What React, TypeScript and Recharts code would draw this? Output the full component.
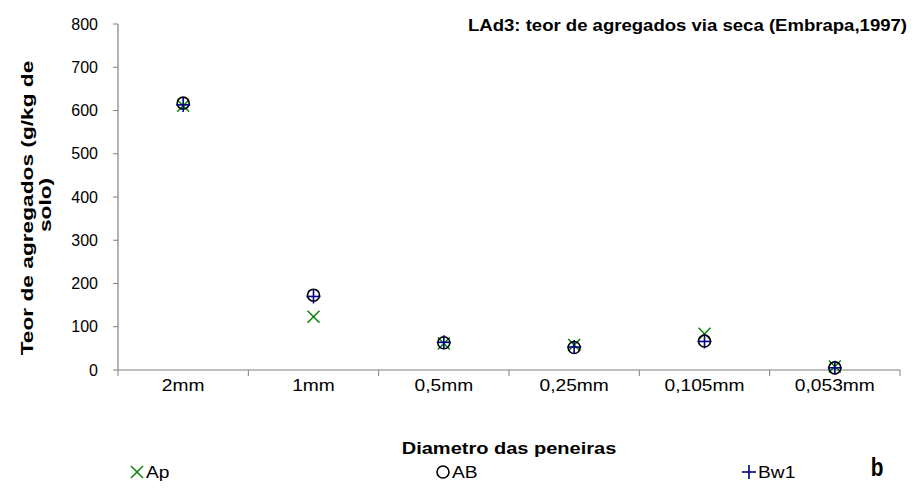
import { Line, LineChart, XAxis, YAxis } from "recharts";

const categories = ["2mm", "1mm", "0,5mm", "0,25mm", "0,105mm", "0,053mm"];
const apValues = [611, 123, 61, 58, 84, 8];
const abValues = [617, 173, 63, 52, 67, 5];
const bw1Values = [613, 170, 64, 53, 66, 5];
const yTicks = [0, 100, 200, 300, 400, 500, 600, 700, 800];

const FONT = "'Liberation Sans', Arial, sans-serif";
const AXIS_GRAY = "#808080";
// the original text is rendered a little wider than Arial
const STRETCH = 1.2;

type SeriesDef = {
  key: string;
  label: string;
  color: string;
  shape: "x" | "circle" | "plus";
};

const series: SeriesDef[] = [
  { key: "Ap", label: "Ap", color: "#008000", shape: "x" },
  { key: "AB", label: "AB", color: "#000000", shape: "circle" },
  { key: "Bw1", label: "Bw1", color: "#000080", shape: "plus" },
];

const rows = categories.map((label, i) => ({
  label,
  Ap: apValues[i],
  AB: abValues[i],
  Bw1: bw1Values[i],
}));

const Marker = ({ cx, cy, shape, color }: { cx: number; cy: number; shape: string; color: string }) => {
  if (shape === "x") {
    return (
      <g stroke={color} strokeWidth={1.4}>
        <line x1={cx - 6} y1={cy - 6} x2={cx + 6} y2={cy + 6} />
        <line x1={cx - 6} y1={cy + 6} x2={cx + 6} y2={cy - 6} />
      </g>
    );
  }
  if (shape === "circle") {
    return <circle cx={cx} cy={cy} r={6} fill="none" stroke={color} strokeWidth={1.6} />;
  }
  return (
    <g stroke={color} strokeWidth={1.6}>
      <line x1={cx - 7} y1={cy} x2={cx + 7} y2={cy} />
      <line x1={cx} y1={cy - 7} x2={cx} y2={cy + 7} />
    </g>
  );
};

const makeDot = (s: SeriesDef) => (props: any) => {
  const { cx, cy, index } = props;
  if (cx == null || cy == null) return <g key={`${s.key}-${index}`} />;
  return (
    <g key={`${s.key}-${index}`}>
      <Marker cx={cx} cy={cy} shape={s.shape} color={s.color} />
    </g>
  );
};

const CategoryTick = (props: any) => {
  const { x, y, payload, index } = props;
  const half = payload?.offset ?? 65;
  const last = index === categories.length - 1;
  return (
    <g>
      <line x1={x - half} y1={y - 8} x2={x - half} y2={y - 2} stroke={AXIS_GRAY} />
      {last && <line x1={x + half} y1={y - 8} x2={x + half} y2={y - 2} stroke={AXIS_GRAY} />}
      <text
        transform={`translate(${x},${y + 13}) scale(${STRETCH},1)`}
        textAnchor="middle"
        fill="#000"
        fontSize={16}
        fontFamily={FONT}
      >
        {payload.value}
      </text>
    </g>
  );
};

const LEGEND_X0 = 137;
const LEGEND_STEP = 306;
const LEGEND_Y = 472;

export default function App() {
  return (
    <div style={{ position: "absolute", left: 0, top: 0, width: 914, height: 488, background: "#fff", fontFamily: FONT }}>
      <LineChart width={914} height={488} data={rows} margin={{ top: 24, right: 14, bottom: 78, left: 0 }}>
        <XAxis
          dataKey="label"
          type="category"
          scale="band"
          interval={0}
          tick={<CategoryTick />}
          tickLine={false}
          axisLine={{ stroke: AXIS_GRAY, strokeWidth: 1.2 }}
          height={40}
        />
        <YAxis
          domain={[0, 800]}
          ticks={yTicks}
          interval={0}
          width={118}
          tickSize={5}
          tickMargin={15}
          tick={{ fill: "#000", fontSize: 16, fontFamily: FONT }}
          tickLine={{ stroke: AXIS_GRAY }}
          axisLine={{ stroke: AXIS_GRAY, strokeWidth: 1.2 }}
        />
        {series.map((s) => (
          <Line
            key={s.key}
            dataKey={s.key}
            name={s.label}
            stroke="none"
            dot={makeDot(s)}
            activeDot={false}
            isAnimationActive={false}
          />
        ))}
        <text
          transform={`translate(907,31) scale(1.16,1)`}
          textAnchor="end"
          fontWeight="bold"
          fontSize={16}
          fontFamily={FONT}
          fill="#000"
        >
          LAd3: teor de agregados via seca (Embrapa,1997)
        </text>
        <text
          transform={`translate(509,454) scale(1.25,1)`}
          textAnchor="middle"
          fontWeight="bold"
          fontSize={16}
          fontFamily={FONT}
          fill="#000"
        >
          Diametro das peneiras
        </text>
        <text
          transform="translate(33,208) rotate(-90) scale(1.42,1)"
          textAnchor="middle"
          fontWeight="bold"
          fontSize={16}
          fontFamily={FONT}
          fill="#000"
        >
          Teor de agregados (g/kg de
        </text>
        <text
          transform="translate(51,205) rotate(-90) scale(1.42,1)"
          textAnchor="middle"
          fontWeight="bold"
          fontSize={16}
          fontFamily={FONT}
          fill="#000"
        >
          solo)
        </text>
        {series.map((s, i) => {
          const mx = LEGEND_X0 + i * LEGEND_STEP;
          return (
            <g key={`legend-${s.key}`}>
              <Marker cx={mx} cy={LEGEND_Y} shape={s.shape} color={s.color} />
              <text
                transform={`translate(${mx + 9},${LEGEND_Y + 6}) scale(${STRETCH},1)`}
                fontSize={16}
                fontFamily={FONT}
                fill="#000"
              >
                {s.label}
              </text>
            </g>
          );
        })}
        <text
          transform="translate(877,476) scale(0.8,1)"
          textAnchor="middle"
          fontWeight="bold"
          fontSize={26}
          fontFamily={FONT}
          fill="#000"
        >
          b
        </text>
      </LineChart>
    </div>
  );
}
